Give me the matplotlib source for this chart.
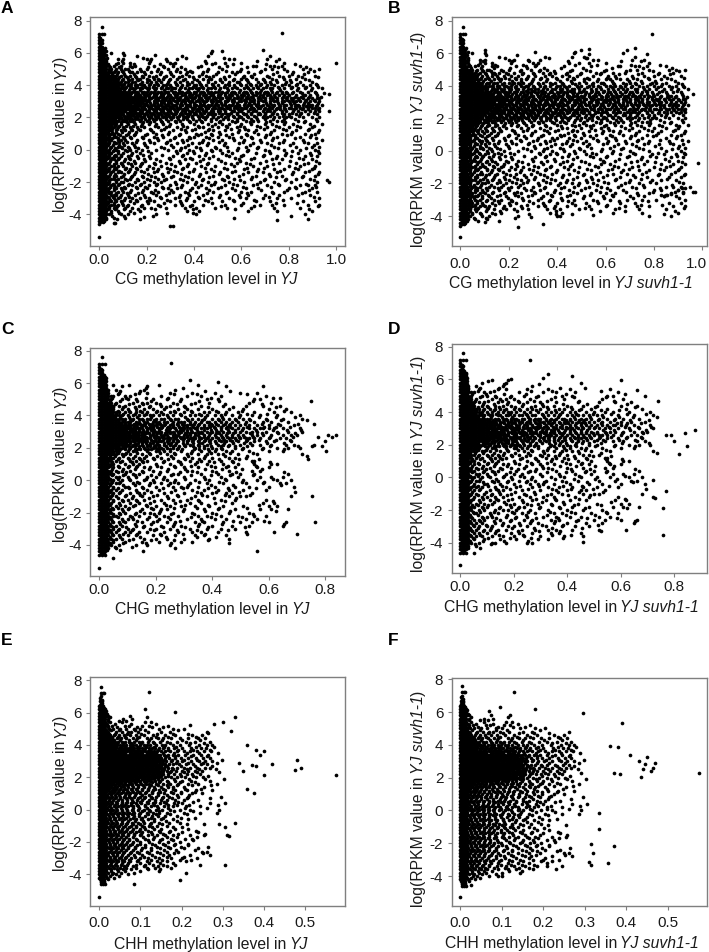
import matplotlib
matplotlib.use('Agg')
import matplotlib.pyplot as plt
from matplotlib.transforms import ScaledTranslation

plt.rcParams['font.family'] = ['Liberation Sans', 'DejaVu Sans']

# log(RPKM) levels the picture was read along, top to bottom
y_levels = [7.6, 7.4, 7.2, 7.0, 6.8, 6.6, 6.4, 6.2, 6.0, 5.8, 5.6, 5.4, 5.2, 5.0, 4.8, 4.6, 4.4, 4.2, 4.0, 3.8, 3.6,
            3.4, 3.2, 3.0, 2.8, 2.6, 2.4, 2.2, 2.0, 1.8, 1.6, 1.4, 1.2, 1.0, 0.8, 0.6, 0.4, 0.2, 0.0, -0.2, -0.4,
            -0.6, -0.8, -1.0, -1.2, -1.4, -1.6, -1.8, -2.0, -2.2, -2.4, -2.6, -2.8, -3.0, -3.2, -3.4, -3.6, -3.8,
            -4.0, -4.2, -4.4, -4.6]
# second pass through the picture, between the levels above
y_mid_levels = [6.9, 6.7, 6.5, 6.3, 6.1, 5.9, 5.7, 5.5, 5.3, 5.1, 4.9, 4.7, 4.5, 4.3, 4.1, 3.9, 3.7, 3.5, 3.3, 3.1, 2.9,
                2.7, 2.5, 2.3, 2.1, 1.9, 1.7, 1.5, 1.3, 1.1, 0.9, 0.7, 0.5, 0.3, 0.1, -0.1, -0.3, -0.5, -0.7, -0.9, -1.1,
                -1.3, -1.5, -1.7, -1.9, -2.1, -2.3, -2.5, -2.7, -2.9, -3.1, -3.3, -3.5, -3.7, -3.9, -4.1, -4.3, -4.5]
# third pass, only the black band
y_core_levels = [3.5, 3.3, 3.1, 2.9, 2.7, 2.5, 2.3, 2.1, 1.9]

# CG methylation in percent, one list per level
cg_rows = [
    [1], [], [0, 1, 2], [0], [0, 1], [0, 1], [0, 1], [0, 1, 2, 69],  # 7.6 - 6.2
    [0, 1, 2, 5, 10, 47], [0, 1, 2, 16, 35, 46, 72],  # 6.0, 5.8
    [0, 1, 2, 3, 8, 10, 20, 22, 28, 33, 55, 57, 71, 76],  # 5.6
    [0, 1, 2, 3, 8, 10, 13, 21, 30, 32, 45, 49, 53, 60, 78],  # 5.4
    [0, 1, 2, 3, 4, 6, 9, 13, 15, 23, 27, 31, 43, 54, 65, 66, 72, 74, 77, 85],  # 5.2
    [0, 1, 2, 3, 4, 5, 7, 9, 11, 12, 17, 20, 25, 29, 33, 36, 46, 52, 60, 70, 73, 78, 86, 89, 93],  # 5.0
    [0, 1, 2, 3, 4, 5, 6, 8, 10, 13, 14, 16, 19, 22, 26, 30, 34, 37, 39, 44, 50, 56, 58, 63, 68, 75, 82, 88],  # 4.8
    [0, 1, 2, 3, 4, 5, 6, 7, 9, 11, 13, 15, 18, 21, 24, 28, 31, 35, 38, 42, 45, 48, 55, 61, 64, 71, 76, 80, 84, 91],  # 4.6
    [0, 1, 2, 3, 4, 5, 6, 7, 8, 10, 12, 14, 16, 17, 20, 23, 25, 27, 30, 33, 36, 40, 44, 47, 51, 53, 57, 60, 62, 66, 69, 73, 78, 83, 87],  # 4.4
    [0, 1, 2, 3, 4, 5, 6, 7, 8, 9, 11, 12, 14, 15, 18, 20, 22, 24, 26, 29, 32, 34, 37, 39, 42, 46, 49, 52, 55, 58, 59, 63, 67, 70, 72, 75, 79, 81, 85, 90],  # 4.2
    [0, 1, 2, 3, 4, 5, 6, 7, 8, 9, 10, 12, 13, 15, 16, 18, 19, 21, 23, 25, 27, 28, 30, 33, 35, 37, 40, 41, 43, 45, 48, 50, 53, 55, 57, 60, 62, 64, 66, 68, 71, 74, 77, 80, 83, 86, 89, 92],  # 4.0
    [0, 1, 2, 3, 4, 5, 6, 7, 8, 9, 10, 11, 13, 14, 15, 17, 18, 20, 21, 23, 24, 26, 28, 29, 31, 32, 34, 36, 38, 39, 41, 42, 44, 46, 47, 49, 51, 54, 56, 58, 61, 63, 65, 67, 69, 72, 73, 76, 78, 81, 84, 87, 90, 94],  # 3.8
    [0, 1, 2, 3, 4, 5, 6, 7, 8, 9, 10, 11, 12, 14, 15, 16, 18, 19, 20, 22, 23, 25, 26, 28, 29, 31, 32, 34, 35, 37, 38, 40, 41, 43, 44, 46, 47, 49, 50, 52, 54, 56, 57, 59, 61, 62, 64, 66, 68, 70, 71, 73, 75, 77, 79, 82, 85, 88, 91],  # 3.6
    [0, 1, 2, 3, 4, 5, 6, 7, 8, 9, 10, 11, 12, 13, 15, 16, 17, 19, 20, 21, 23, 24, 26, 27, 29, 30, 32, 33, 35, 36, 38, 39, 41, 42, 44, 45, 47, 48, 50, 51, 53, 55, 56, 58, 60, 61, 63, 65, 66, 68, 69, 71, 72, 74, 76, 78, 80, 83, 86, 87, 89, 92],  # 3.4
    [0, 1, 2, 3, 4, 5, 6, 7, 8, 9, 10, 11, 12, 13, 14, 15, 17, 18, 19, 21, 22, 24, 25, 27, 28, 30, 31, 33, 34, 36, 37, 39, 40, 42, 43, 45, 46, 48, 49, 51, 52, 54, 55, 57, 58, 60, 62, 63, 65, 67, 68, 70, 72, 73, 75, 77, 79, 81, 82, 84, 86, 88, 90, 92, 93],  # 3.2
    [0, 1, 2, 3, 4, 5, 6, 7, 8, 9, 10, 11, 12, 13, 14, 16, 17, 18, 20, 21, 23, 24, 26, 27, 29, 30, 32, 33, 35, 36, 38, 39, 41, 42, 44, 45, 47, 48, 50, 51, 53, 54, 56, 57, 59, 60, 62, 64, 65, 67, 69, 70, 72, 74, 75, 77, 78, 80, 82, 83, 85, 87, 89, 91, 93],  # 3.0
    [0, 1, 2, 3, 4, 5, 6, 7, 8, 9, 10, 11, 12, 13, 15, 16, 17, 19, 20, 22, 23, 25, 26, 28, 29, 31, 32, 34, 35, 37, 38, 40, 41, 43, 44, 46, 47, 49, 50, 52, 53, 55, 56, 58, 59, 61, 63, 64, 66, 67, 69, 71, 73, 74, 76, 78, 79, 81, 83, 84, 86, 88, 89, 90, 92, 94],  # 2.8
    [0, 1, 2, 3, 4, 5, 6, 7, 8, 9, 10, 11, 12, 14, 15, 16, 18, 19, 21, 22, 24, 25, 27, 28, 30, 31, 33, 34, 36, 37, 39, 40, 42, 43, 45, 46, 48, 49, 51, 52, 54, 55, 57, 58, 60, 61, 62, 64, 65, 67, 68, 70, 72, 73, 75, 76, 78, 80, 81, 83, 85, 86, 88, 90, 91, 93],  # 2.6
    [0, 1, 2, 3, 4, 5, 6, 7, 8, 9, 10, 11, 13, 14, 15, 17, 18, 20, 21, 23, 24, 26, 27, 29, 30, 32, 33, 35, 36, 38, 39, 41, 42, 44, 45, 47, 48, 50, 51, 53, 56, 57, 59, 60, 63, 65, 66, 69, 71, 72, 74, 77, 79, 82, 84, 87, 89, 91, 93],  # 2.4
    [0, 1, 2, 3, 4, 5, 6, 7, 8, 9, 10, 12, 13, 14, 16, 17, 19, 20, 22, 23, 25, 26, 28, 29, 31, 32, 34, 35, 37, 38, 40, 41, 43, 46, 47, 49, 52, 54, 55, 58, 61, 62, 64, 67, 68, 70, 73, 75, 78, 80, 83, 85, 88, 92],  # 2.2
    [0, 1, 2, 3, 4, 5, 6, 7, 8, 9, 11, 12, 15, 16, 18, 19, 21, 22, 24, 25, 27, 28, 30, 31, 33, 36, 37, 39, 42, 44, 45, 48, 50, 53, 57, 59, 60, 63, 66, 69, 71, 74, 76, 79, 81, 86, 90, 93],  # 2.0
    [0, 1, 2, 3, 4, 5, 6, 7, 8, 10, 11, 13, 14, 17, 20, 23, 26, 29, 32, 34, 38, 41, 43, 47, 51, 56, 58, 62, 65, 67, 72, 75, 77, 84, 87, 92],  # 1.8
    [0, 1, 2, 3, 4, 5, 6, 7, 9, 12, 15, 18, 21, 24, 27, 30, 35, 40, 46, 49, 52, 55, 60, 64, 70, 73, 78, 82, 89, 94],  # 1.6
    [0, 1, 2, 3, 4, 5, 6, 8, 10, 13, 16, 19, 25, 28, 33, 37, 42, 44, 50, 54, 58, 61, 68, 71, 76, 80, 85, 90],  # 1.4
    [0, 1, 2, 3, 4, 5, 7, 9, 11, 14, 17, 22, 26, 31, 36, 39, 46, 48, 53, 59, 63, 66, 74, 79, 83, 88, 93],  # 1.2
    [0, 1, 2, 3, 4, 5, 6, 8, 12, 15, 20, 24, 29, 34, 41, 43, 47, 51, 56, 62, 67, 72, 77, 81, 87, 91],  # 1.0
    [0, 1, 2, 3, 4, 6, 7, 10, 13, 18, 23, 27, 32, 38, 40, 45, 50, 55, 60, 64, 70, 75, 85, 89],  # 0.8
    [0, 1, 2, 3, 4, 5, 8, 9, 11, 16, 21, 25, 30, 35, 37, 44, 48, 52, 57, 61, 68, 73, 78, 86, 94],  # 0.6
    [0, 1, 2, 3, 4, 6, 7, 10, 14, 19, 23, 28, 33, 39, 42, 46, 53, 59, 65, 71, 76, 82, 88, 92],  # 0.4
    [0, 1, 2, 3, 5, 8, 9, 12, 15, 20, 26, 31, 36, 41, 49, 54, 62, 67, 74, 83, 90, 93],  # 0.2
    [0, 1, 2, 3, 4, 6, 7, 11, 13, 18, 24, 29, 34, 38, 43, 47, 51, 58, 63, 70, 78, 85, 91],  # 0.0
    [0, 1, 2, 3, 4, 5, 8, 10, 14, 17, 22, 33, 37, 40, 45, 52, 56, 66, 72, 79, 84, 89, 93],  # -0.2
    [0, 1, 2, 3, 4, 6, 7, 9, 12, 16, 21, 31, 35, 42, 48, 55, 60, 69, 75, 81, 87, 92],  # -0.4
    [0, 1, 2, 3, 5, 6, 8, 11, 13, 19, 24, 30, 36, 39, 44, 50, 59, 64, 73, 77, 86, 90],  # -0.6
    [0, 1, 2, 3, 4, 7, 9, 12, 15, 18, 23, 28, 34, 41, 46, 53, 58, 62, 68, 76, 83, 88, 93],  # -0.8
    [0, 1, 2, 3, 5, 6, 8, 10, 14, 17, 21, 26, 32, 37, 43, 49, 57, 65, 71, 80, 85, 91],  # -1.0
    [0, 1, 2, 3, 4, 6, 7, 11, 13, 16, 20, 25, 30, 35, 40, 47, 54, 61, 67, 74, 78, 84, 90],  # -1.2
    [0, 1, 2, 3, 5, 8, 9, 12, 15, 19, 23, 29, 33, 38, 45, 51, 56, 63, 69, 75, 82, 87, 93],  # -1.4
    [0, 1, 2, 3, 4, 6, 7, 10, 14, 18, 22, 27, 31, 36, 42, 48, 54, 59, 66, 72, 77, 86, 91],  # -1.6
    [0, 1, 2, 3, 5, 6, 8, 11, 13, 16, 20, 25, 28, 34, 39, 44, 52, 57, 64, 70, 79, 83, 89],  # -1.8
    [0, 1, 2, 3, 4, 7, 9, 10, 15, 19, 23, 26, 32, 37, 41, 46, 49, 55, 61, 68, 74, 81, 92],  # -2.0
    [0, 1, 2, 3, 5, 6, 8, 12, 14, 17, 21, 24, 30, 35, 43, 47, 53, 58, 65, 71, 76, 85, 88, 91],  # -2.2
    [0, 1, 2, 3, 4, 6, 7, 9, 11, 16, 20, 27, 29, 33, 39, 45, 50, 56, 62, 67, 80, 83, 90],  # -2.4
    [0, 1, 2, 3, 4, 5, 8, 10, 13, 18, 22, 25, 31, 36, 41, 48, 54, 60, 64, 73, 78, 87, 92],  # -2.6
    [0, 1, 2, 3, 5, 6, 7, 9, 12, 15, 19, 24, 28, 34, 38, 44, 51, 59, 63, 70, 76, 84, 89],  # -2.8
    [0, 1, 2, 3, 4, 6, 8, 11, 14, 17, 21, 26, 32, 37, 42, 47, 55, 62, 69, 75, 81, 93],  # -3.0
    [0, 1, 2, 3, 4, 5, 7, 9, 13, 16, 20, 23, 30, 34, 40, 46, 52, 57, 66, 72, 86, 91],  # -3.2
    [0, 1, 2, 3, 5, 6, 8, 10, 12, 18, 25, 32, 35, 39, 44, 53, 60, 68, 73, 78, 88, 93],  # -3.4
    [0, 1, 2, 3, 4, 6, 7, 11, 14, 19, 22, 28, 36, 41, 49, 54, 64, 74, 85],  # -3.6
    [0, 1, 2, 3, 5, 8, 13, 17, 37, 42, 63, 75, 90],  # -3.8
    [0, 1, 2, 3, 4, 9, 12, 24, 41, 87],  # -4.0
    [0, 1, 2, 3, 6, 11],  # -4.2
    [0, 1, 2],  # -4.4
    [0],  # -4.6
]

# CG methylation in per mille, second pass
cg_mid_rows = [
    [5], [5], [5], [5, 12, 22], [5, 15, 30, 475],  # 6.9 - 6.1
    [5, 14, 28, 105, 235],  # 5.9
    [5, 15, 32, 185, 365, 525],  # 5.7
    [5, 15, 28, 95, 215, 285, 445, 665, 745],  # 5.5
    [5, 15, 35, 72, 145, 258, 312, 475, 565, 705, 825],  # 5.3
    [5, 15, 25, 45, 85, 138, 205, 275, 345, 415, 505, 625, 755, 875],  # 5.1
    [5, 15, 25, 42, 65, 95, 125, 175, 245, 325, 385, 455, 535, 595, 685, 795, 905],  # 4.9
    [5, 15, 25, 38, 55, 75, 105, 145, 195, 255, 305, 365, 435, 495, 575, 655, 735, 815, 865],  # 4.7
    [5, 15, 25, 35, 48, 62, 85, 115, 155, 185, 225, 275, 335, 395, 465, 525, 605, 645, 715, 775, 855, 925],  # 4.5
    [5, 15, 25, 35, 45, 58, 72, 95, 125, 165, 212, 252, 295, 355, 412, 458, 512, 565, 625, 695, 745, 805, 885],  # 4.3
    [5, 15, 25, 35, 45, 55, 68, 82, 105, 135, 172, 215, 245, 285, 325, 378, 425, 475, 545, 595, 635, 685, 725, 785, 835, 915],  # 4.1
    [5, 15, 25, 35, 45, 55, 65, 78, 95, 112, 135, 158, 195, 225, 265, 305, 345, 395, 435, 485, 525, 575, 625, 665, 705, 755, 815, 875, 925],  # 3.9
    [5, 15, 25, 35, 45, 55, 65, 75, 88, 105, 125, 145, 172, 205, 235, 272, 302, 335, 375, 415, 455, 505, 545, 595, 635, 685, 725, 765, 835, 895],  # 3.7
    [5, 15, 25, 35, 45, 55, 65, 75, 85, 98, 115, 135, 155, 185, 215, 245, 275, 315, 345, 385, 425, 465, 515, 555, 605, 645, 695, 745, 795, 855, 915],  # 3.5
    [5, 15, 25, 35, 45, 55, 65, 75, 85, 95, 108, 125, 145, 165, 192, 225, 255, 285, 325, 365, 405, 445, 485, 535, 585, 625, 675, 725, 775, 825, 885, 935],  # 3.3
    [5, 15, 25, 35, 45, 55, 65, 75, 85, 95, 105, 118, 135, 155, 175, 198, 235, 265, 295, 335, 375, 415, 455, 495, 545, 595, 635, 685, 735, 795, 845, 905],  # 3.1
    [5, 15, 25, 35, 45, 55, 65, 75, 85, 95, 105, 122, 145, 165, 185, 215, 245, 275, 305, 345, 385, 425, 475, 515, 565, 615, 655, 705, 755, 805, 865, 925],  # 2.9
    [5, 15, 25, 35, 45, 55, 65, 75, 85, 95, 105, 115, 132, 152, 175, 205, 235, 265, 295, 325, 365, 405, 445, 485, 535, 575, 625, 665, 715, 765, 825, 875, 915],  # 2.7
    [5, 15, 25, 35, 45, 55, 65, 75, 85, 95, 112, 128, 148, 168, 195, 225, 255, 285, 315, 355, 395, 435, 475, 525, 585, 635, 695, 745, 785, 855, 925],  # 2.5
    [5, 15, 25, 35, 45, 55, 65, 75, 85, 98, 115, 135, 155, 182, 215, 245, 275, 305, 345, 385, 425, 465, 505, 555, 605, 675, 735, 815, 905],  # 2.3
    [5, 15, 25, 35, 45, 55, 65, 75, 88, 105, 125, 145, 172, 205, 235, 265, 295, 335, 375, 415, 455, 515, 565, 625, 695, 775, 845],  # 2.1
    [5, 15, 25, 35, 45, 55, 68, 82, 98, 118, 138, 165, 195, 225, 255, 305, 355, 395, 445, 495, 545, 605, 665, 735, 825, 915],  # 1.9
    [5, 15, 25, 35, 45, 58, 72, 92, 115, 145, 185, 215, 265, 325, 385, 435, 505, 575, 635, 705, 785, 865],  # 1.7
    [5, 15, 25, 35, 48, 65, 85, 112, 142, 175, 235, 295, 355, 415, 475, 535, 595, 665, 745, 835, 905],  # 1.5
    [5, 15, 25, 38, 55, 75, 105, 135, 165, 215, 275, 345, 405, 465, 555, 615, 695, 775, 885],  # 1.3
    [5, 15, 25, 35, 52, 72, 98, 125, 155, 225, 295, 365, 445, 505, 585, 655, 725, 815, 925],  # 1.1
    [5, 15, 25, 42, 62, 88, 112, 145, 195, 265, 335, 415, 475, 535, 625, 705, 795, 895],  # 0.9
    [5, 15, 25, 38, 55, 78, 105, 135, 185, 245, 315, 385, 465, 565, 645, 735, 825, 915],  # 0.7
    [5, 15, 25, 42, 62, 85, 118, 155, 215, 285, 355, 435, 505, 605, 685, 775, 865],  # 0.5
    [5, 15, 25, 38, 58, 82, 105, 145, 195, 305, 375, 455, 525, 635, 725, 805, 905],  # 0.3
    [5, 15, 25, 45, 65, 95, 125, 165, 275, 345, 425, 495, 585, 665, 755, 875],  # 0.1
    [5, 15, 25, 38, 58, 78, 115, 155, 205, 325, 395, 475, 545, 625, 715, 815, 925],  # -0.1
    [5, 15, 25, 42, 65, 92, 135, 185, 265, 355, 445, 535, 605, 695, 785, 895],  # -0.3
    [5, 15, 25, 38, 55, 85, 125, 165, 215, 295, 385, 465, 575, 655, 745, 845],  # -0.5
    [5, 15, 25, 45, 72, 105, 145, 195, 255, 335, 425, 515, 595, 705, 805, 915],  # -0.7
    [5, 15, 25, 38, 62, 95, 135, 175, 235, 305, 375, 455, 555, 635, 735, 865],  # -0.9
    [5, 15, 25, 42, 72, 112, 155, 225, 285, 355, 445, 525, 625, 695, 825, 905],  # -1.1
    [5, 15, 25, 38, 58, 85, 125, 175, 245, 315, 395, 485, 575, 665, 765, 885],  # -1.3
    [5, 15, 25, 45, 68, 105, 145, 205, 265, 345, 425, 505, 605, 715, 815, 925],  # -1.5
    [5, 15, 25, 38, 62, 92, 135, 185, 235, 305, 375, 465, 545, 645, 745, 855],  # -1.7
    [5, 15, 25, 42, 72, 115, 165, 215, 275, 355, 435, 525, 595, 695, 785, 905],  # -1.9
    [5, 15, 25, 38, 58, 85, 125, 175, 245, 325, 405, 485, 565, 665, 755, 875],  # -2.1
    [5, 15, 25, 45, 68, 105, 155, 195, 265, 345, 415, 515, 605, 725, 825, 915],  # -2.3
    [5, 15, 25, 38, 62, 95, 135, 185, 235, 305, 385, 465, 575, 685, 795, 885],  # -2.5
    [5, 15, 25, 42, 72, 115, 165, 225, 295, 375, 455, 535, 625, 735, 855],  # -2.7
    [5, 15, 25, 38, 58, 88, 125, 195, 255, 335, 415, 505, 595, 715, 905],  # -2.9
    [5, 15, 25, 45, 68, 105, 155, 215, 285, 365, 445, 565, 655, 775],  # -3.1
    [5, 15, 25, 38, 62, 95, 145, 205, 275, 345, 475, 605, 745, 835],  # -3.3
    [5, 15, 25, 42, 75, 115, 175, 255, 385, 515, 655, 925],  # -3.5
    [5, 15, 25, 38, 65, 105, 165, 235, 395, 575, 885],  # -3.7
    [5, 15, 25, 48, 85, 145, 285, 395],  # -3.9
    [5, 15, 25, 55, 105, 225],  # -4.1
    [5, 15, 28, 75],  # -4.3
    [5, 15],  # -4.5
]

# CG methylation in per mille, black band only
cg_core_rows = [
    [108, 128, 165, 198, 232, 262, 292, 332, 362, 402, 442, 482, 532, 572, 622, 668, 712, 772, 812],  # 3.5
    [118, 135, 158, 178, 208, 238, 268, 302, 342, 382, 422, 462, 502, 552, 602, 642, 692, 742, 792, 852],  # 3.3
    [112, 128, 145, 165, 188, 212, 248, 278, 312, 352, 392, 432, 472, 512, 562, 612, 652, 702, 752, 812, 872],  # 3.1
    [115, 135, 155, 175, 198, 232, 262, 292, 328, 362, 402, 442, 492, 532, 582, 632, 672, 722, 772, 822, 882],  # 2.9
    [125, 142, 162, 188, 218, 248, 278, 308, 342, 382, 422, 462, 502, 552, 592, 642, 682, 732, 782, 842, 892],  # 2.7
    [122, 138, 158, 182, 208, 238, 268, 298, 332, 372, 412, 452, 502, 552, 602, 652, 712, 762, 822, 882],  # 2.5
    [125, 145, 168, 198, 228, 258, 288, 322, 362, 402, 442, 482, 532, 582, 642, 702, 772, 852],  # 2.3
    [115, 135, 158, 188, 218, 248, 278, 312, 352, 392, 432, 482, 542, 592, 652, 722, 802],  # 2.1
    [108, 128, 152, 178, 208, 238, 282, 332, 372, 422, 472, 522, 582, 642, 702, 782],  # 1.9
]

# CHG methylation in percent
chg_rows = [
    [1], [], [0, 1, 2], [0], [0, 1], [0, 1], [0, 1, 2], [0, 1, 2],
    [0, 1, 2], [0, 1, 2, 8, 17, 45],  # 6.0, 5.8
    [0, 1, 2, 3, 6, 16, 27],  # 5.6
    [0, 1, 2, 3, 7, 14, 17, 25, 33, 41, 56],  # 5.4
    [0, 1, 2, 3, 4, 5, 9, 11, 22, 31, 36, 43, 59],  # 5.2
    [0, 1, 2, 3, 4, 8, 10, 13, 19, 24, 29, 38, 42, 55, 57],  # 5.0
    [0, 1, 2, 3, 4, 6, 12, 15, 17, 20, 26, 34, 39, 53, 61],  # 4.8
    [0, 1, 2, 3, 4, 5, 7, 9, 14, 18, 22, 25, 30, 36, 44, 52, 58, 64],  # 4.6
    [0, 1, 2, 3, 4, 5, 8, 10, 13, 16, 19, 23, 28, 31, 35, 40, 46, 51, 60, 66],  # 4.4
    [0, 1, 2, 3, 4, 5, 6, 7, 9, 11, 13, 15, 17, 20, 22, 25, 27, 30, 33, 37, 39, 42, 45, 49, 55, 62, 68],  # 4.2
    [0, 1, 2, 3, 4, 5, 6, 7, 8, 10, 12, 14, 16, 18, 19, 21, 24, 26, 29, 32, 34, 36, 38, 41, 43, 47, 50, 54, 57, 63, 71],  # 4.0
    [0, 1, 2, 3, 4, 5, 6, 7, 8, 9, 11, 12, 14, 15, 17, 18, 20, 22, 23, 25, 27, 28, 31, 33, 35, 37, 40, 42, 44, 46, 48, 51, 53, 59, 65, 72],  # 3.8
    [0, 1, 2, 3, 4, 5, 6, 7, 8, 9, 10, 11, 13, 14, 16, 17, 19, 20, 21, 23, 24, 26, 28, 29, 30, 32, 34, 36, 38, 39, 41, 43, 45, 47, 49, 52, 55, 58, 61, 67],  # 3.6
    [0, 1, 2, 3, 4, 5, 6, 7, 8, 9, 10, 11, 12, 13, 15, 16, 18, 19, 20, 22, 23, 25, 26, 28, 30, 31, 33, 35, 37, 39, 40, 42, 44, 46, 48, 50, 53, 56, 60, 64, 69],  # 3.4
    [0, 1, 2, 3, 4, 5, 6, 7, 8, 9, 10, 11, 12, 13, 14, 15, 17, 18, 19, 21, 22, 24, 25, 27, 29, 30, 32, 34, 36, 38, 41, 43, 45, 47, 49, 51, 53, 55, 57, 58, 60, 62, 65, 71],  # 3.2
    [0, 1, 2, 3, 4, 5, 6, 7, 8, 9, 10, 11, 12, 13, 14, 15, 16, 17, 19, 20, 21, 22, 24, 25, 26, 28, 29, 31, 33, 35, 36, 38, 40, 42, 44, 46, 48, 50, 52, 54, 56, 59, 63, 67, 72],  # 3.0
    [0, 1, 2, 3, 4, 5, 6, 7, 8, 9, 10, 11, 12, 13, 14, 15, 16, 18, 19, 20, 22, 23, 24, 26, 27, 28, 30, 31, 32, 34, 35, 37, 39, 41, 43, 45, 47, 49, 51, 54, 56, 58, 61, 65, 68, 70],  # 2.8
    [0, 1, 2, 3, 4, 5, 6, 7, 8, 9, 10, 11, 12, 13, 14, 15, 16, 17, 18, 20, 21, 23, 24, 25, 27, 29, 30, 32, 33, 34, 36, 38, 40, 42, 44, 46, 48, 50, 52, 53, 55, 57, 60, 64, 66],  # 2.6
    [0, 1, 2, 3, 4, 5, 6, 7, 8, 9, 10, 11, 12, 14, 15, 16, 17, 19, 20, 21, 22, 24, 26, 28, 31, 33, 35, 37, 39, 41, 43, 45, 47, 49, 52, 55, 59, 62, 68],  # 2.4
    [0, 1, 2, 3, 4, 5, 6, 7, 8, 9, 10, 12, 13, 15, 17, 18, 20, 21, 23, 25, 27, 30, 32, 35, 38, 42, 44, 46, 50, 54, 57, 61, 66, 69],  # 2.2
    [0, 1, 2, 3, 4, 5, 6, 7, 8, 9, 11, 14, 16, 19, 20, 21, 22, 24, 26, 28, 34, 37, 40, 43, 48, 51, 58, 63, 67, 71],  # 2.0
    [0, 1, 2, 3, 4, 5, 6, 7, 10, 12, 13, 17, 20, 21, 23, 25, 29, 33, 36, 39, 41, 45, 47, 53, 60, 65],  # 1.8
    [0, 1, 2, 3, 4, 5, 6, 8, 9, 11, 15, 18, 24, 27, 31, 35, 38, 42, 44, 49, 56, 72],  # 1.6
    [0, 1, 2, 3, 4, 5, 7, 10, 12, 14, 16, 19, 22, 26, 30, 33, 37, 40, 46, 48, 52],  # 1.4
    [0, 1, 2, 3, 4, 6, 8, 11, 13, 15, 17, 23, 28, 32, 36, 39, 43, 47, 54, 55],  # 1.2
    [0, 1, 2, 3, 4, 5, 9, 12, 14, 20, 25, 29, 34, 38, 44, 49, 55, 61, 63],  # 1.0
    [0, 1, 2, 3, 5, 7, 10, 13, 16, 18, 22, 27, 30, 35, 41, 45, 48, 56, 60],  # 0.8
    [0, 1, 2, 3, 4, 6, 8, 11, 15, 19, 24, 31, 33, 40, 46, 54, 57],  # 0.6
    [0, 1, 2, 3, 4, 5, 9, 12, 14, 21, 26, 28, 36, 42, 47, 50, 55, 67],  # 0.4
    [0, 1, 2, 3, 6, 7, 10, 13, 17, 20, 23, 30, 37, 43, 49, 57, 61, 65],  # 0.2
    [0, 1, 2, 3, 4, 5, 8, 11, 16, 19, 24, 27, 34, 39, 45, 51, 56, 63, 68],  # 0.0
    [0, 1, 2, 3, 4, 6, 7, 12, 14, 18, 22, 25, 28, 32, 38, 44, 52, 58, 64, 66],  # -0.2
    [0, 1, 2, 3, 5, 9, 10, 15, 20, 26, 29, 31, 35, 41, 48, 53, 60, 69],  # -0.4
    [0, 1, 2, 3, 4, 6, 8, 13, 17, 21, 27, 33, 37, 42, 46, 51, 59],  # -0.6
    [0, 1, 2, 3, 5, 7, 11, 14, 16, 23, 30, 36, 40, 45, 47, 54],  # -0.8
    [0, 1, 2, 3, 4, 6, 9, 12, 15, 19, 24, 28, 34, 38, 46, 50, 52, 68],  # -1.0
    [0, 1, 2, 3, 5, 8, 10, 13, 16, 22, 26, 31, 35, 43, 48, 59],  # -1.2
    [0, 1, 2, 3, 4, 7, 11, 14, 18, 23, 27, 32, 36, 41, 47, 58, 62],  # -1.4
    [0, 1, 2, 3, 6, 9, 12, 17, 20, 25, 29, 34, 39, 44, 51, 60, 63],  # -1.6
    [0, 1, 2, 3, 4, 5, 8, 10, 15, 19, 22, 24, 30, 37, 42, 48, 57, 61, 67],  # -1.8
    [0, 1, 2, 3, 4, 7, 9, 13, 16, 18, 21, 26, 33, 40, 46, 53],  # -2.0
    [0, 1, 2, 3, 5, 6, 11, 14, 20, 23, 28, 35, 38, 43, 49, 55, 59],  # -2.2
    [0, 1, 2, 3, 4, 8, 10, 12, 17, 21, 25, 31, 36, 41, 45, 52, 56],  # -2.4
    [0, 1, 2, 3, 5, 7, 9, 15, 19, 24, 27, 34, 37, 44, 50, 54, 60, 66],  # -2.6
    [0, 1, 2, 3, 4, 6, 8, 13, 16, 22, 26, 29, 35, 40, 47, 53, 65],  # -2.8
    [0, 1, 2, 3, 5, 7, 10, 12, 18, 20, 25, 32, 38, 43, 48],  # -3.0
    [0, 1, 2, 3, 4, 6, 9, 11, 14, 17, 23, 28, 33, 36, 42, 52, 62],  # -3.2
    [0, 1, 2, 3, 5, 7, 10, 13, 19, 22, 27, 34, 37, 45],  # -3.4
    [0, 1, 2, 3, 4, 6, 8, 12, 16, 20, 24, 30, 39, 46],  # -3.6
    [0, 1, 2, 3, 5, 9, 15, 21, 29, 33],  # -3.8
    [0, 1, 2, 3, 4, 7, 13, 17, 25],  # -4.0
    [0, 1, 2, 3, 6],  # -4.2
    [0, 1, 2],  # -4.4
    [0, 1, 2],  # -4.6
]

# CHG methylation in per mille, second pass
chg_mid_rows = [
    [5], [5], [5, 15], [5, 15, 22], [5, 15, 25],  # 6.9 - 6.1
    [5, 15, 25, 105],  # 5.9
    [5, 15, 25, 165, 295],  # 5.7
    [5, 15, 28, 75, 145, 375, 465],  # 5.5
    [5, 15, 28, 65, 125, 265, 345, 525],  # 5.3
    [5, 15, 25, 45, 95, 165, 245, 395, 615],  # 5.1
    [5, 15, 25, 38, 75, 135, 185, 285, 355, 425, 545],  # 4.9
    [5, 15, 25, 35, 55, 105, 155, 215, 275, 325, 445, 575],  # 4.7
    [5, 15, 25, 35, 48, 85, 125, 175, 235, 305, 385, 475, 625],  # 4.5
    [5, 15, 25, 35, 45, 65, 105, 145, 205, 265, 325, 415, 505, 655],  # 4.3
    [5, 15, 25, 35, 45, 58, 85, 125, 165, 225, 285, 355, 445, 525, 595],  # 4.1
    [5, 15, 25, 35, 45, 55, 75, 105, 135, 185, 245, 305, 375, 435, 495, 565, 625, 695],  # 3.9
    [5, 15, 25, 35, 45, 55, 65, 85, 115, 155, 195, 255, 315, 365, 425, 485, 535, 595, 645, 735],  # 3.7
    [5, 15, 25, 35, 45, 55, 65, 78, 105, 145, 175, 215, 275, 335, 395, 445, 515, 575, 635, 705],  # 3.5
    [5, 15, 25, 35, 45, 55, 65, 75, 95, 125, 165, 205, 245, 295, 345, 405, 465, 525, 585, 625, 675],  # 3.3
    [5, 15, 25, 35, 45, 55, 65, 75, 85, 115, 155, 195, 235, 285, 325, 395, 455, 505, 555, 615, 665, 715],  # 3.1
    [5, 15, 25, 35, 45, 55, 65, 75, 85, 105, 135, 175, 215, 265, 305, 365, 425, 475, 535, 575, 635, 695],  # 2.9
    [5, 15, 25, 35, 45, 55, 65, 75, 85, 95, 125, 165, 195, 245, 285, 335, 385, 435, 495, 545, 605, 685],  # 2.7
    [5, 15, 25, 35, 45, 55, 65, 75, 85, 105, 135, 185, 225, 275, 315, 375, 425, 485, 565, 625, 675],  # 2.5
    [5, 15, 25, 35, 45, 55, 65, 78, 95, 125, 165, 205, 255, 295, 365, 415, 475, 535, 595, 655],  # 2.3
    [5, 15, 25, 35, 45, 55, 68, 85, 115, 155, 195, 235, 305, 355, 395, 455, 525, 605, 705],  # 2.1
    [5, 15, 25, 35, 45, 58, 75, 105, 145, 185, 225, 275, 335, 385, 435, 505, 575, 655],  # 1.9
    [5, 15, 25, 35, 48, 65, 95, 135, 175, 215, 265, 325, 395, 465, 545],  # 1.7
    [5, 15, 25, 38, 55, 85, 125, 165, 205, 255, 315, 375, 445, 525, 735],  # 1.5
    [5, 15, 25, 35, 65, 105, 145, 195, 245, 305, 355, 425, 495, 565],  # 1.3
    [5, 15, 25, 45, 75, 115, 155, 225, 285, 345, 405, 475, 545, 605],  # 1.1
    [5, 15, 25, 38, 65, 105, 135, 205, 265, 325, 395, 455, 555],  # 0.9
    [5, 15, 25, 45, 85, 125, 175, 245, 305, 375, 435, 505, 575],  # 0.7
    [5, 15, 25, 38, 65, 95, 155, 215, 285, 345, 415, 485, 655],  # 0.5
    [5, 15, 25, 45, 85, 125, 185, 255, 325, 395, 465, 545],  # 0.3
    [5, 15, 25, 38, 65, 105, 165, 225, 305, 375, 445, 615],  # 0.1
    [5, 15, 25, 45, 75, 135, 195, 265, 355, 425, 505, 585],  # -0.1
    [5, 15, 25, 38, 85, 125, 175, 245, 315, 395, 475, 645],  # -0.3
    [5, 15, 25, 48, 65, 105, 155, 225, 295, 385, 455, 555],  # -0.5
    [5, 15, 25, 38, 75, 135, 185, 255, 345, 415, 495, 695],  # -0.7
    [5, 15, 25, 45, 95, 145, 205, 275, 365, 445, 535],  # -0.9
    [5, 15, 25, 38, 65, 115, 175, 245, 325, 405, 485],  # -1.1
    [5, 15, 25, 48, 85, 135, 195, 285, 355, 445, 615],  # -1.3
    [5, 15, 25, 38, 75, 125, 165, 235, 305, 385, 565],  # -1.5
    [5, 15, 25, 45, 65, 105, 185, 265, 345, 425, 525],  # -1.7
    [5, 15, 25, 38, 85, 145, 215, 295, 375, 465, 625],  # -1.9
    [5, 15, 25, 48, 75, 125, 195, 255, 335, 415, 545],  # -2.1
    [5, 15, 25, 38, 65, 115, 175, 245, 325, 395, 505],  # -2.3
    [5, 15, 25, 45, 85, 135, 205, 285, 365, 475, 585],  # -2.5
    [5, 15, 25, 38, 75, 125, 185, 265, 355, 435, 655],  # -2.7
    [5, 15, 25, 48, 95, 155, 225, 305, 385, 515],  # -2.9
    [5, 15, 25, 38, 65, 115, 195, 275, 345, 455],  # -3.1
    [5, 15, 25, 45, 85, 135, 215, 295, 375, 525],  # -3.3
    [5, 15, 25, 38, 75, 145, 235, 345, 415],  # -3.5
    [5, 15, 25, 48, 105, 185, 265, 385],  # -3.7
    [5, 15, 25, 38, 85, 165, 255],  # -3.9
    [5, 15, 25, 55, 115],  # -4.1
    [5, 15, 28, 75],  # -4.3
    [5, 15],  # -4.5
]

# CHG methylation in per mille, black band only
chg_core_rows = [
    [72, 92, 122, 135, 162, 188, 205, 232, 258, 292, 322, 352, 412, 462],  # 3.5
    [85, 108, 132, 148, 178, 192, 222, 262, 282, 312, 332, 372, 392, 432, 452],  # 3.3
    [95, 108, 128, 142, 168, 182, 212, 248, 272, 298, 312, 348, 372, 412, 432, 482],  # 3.1
    [95, 118, 128, 152, 165, 192, 205, 232, 252, 282, 322, 338, 352, 392, 412, 452],  # 2.9
    [108, 118, 138, 152, 178, 208, 222, 262, 272, 298, 312, 352, 372, 412, 452, 472, 512],  # 2.7
    [95, 118, 125, 148, 162, 198, 212, 248, 262, 298, 332, 352, 392, 442, 462, 522],  # 2.5
    [88, 108, 138, 152, 178, 192, 228, 242, 272, 312, 332, 352, 392, 442, 512],  # 2.3
    [95, 105, 128, 142, 168, 178, 212, 262, 282, 332, 372, 432, 482],  # 2.1
    [68, 92, 125, 132, 162, 172, 208, 252, 292, 352, 412],  # 1.9
]

# CHH methylation in per mille
chh_rows = [
    [5], [], [4, 8, 12], [3], [3, 7], [3, 7], [0, 4, 9], [0, 4, 9, 13],
    [0, 4, 9, 14], [0, 4, 9, 16, 22, 75],  # 6.0, 5.8
    [0, 4, 9, 13, 20, 57, 80],  # 5.6
    [0, 4, 9, 13, 26, 56, 110, 125],  # 5.4
    [0, 4, 9, 14, 20, 30, 62, 72, 105, 120, 168],  # 5.2
    [0, 4, 9, 15, 24, 33, 50, 65, 85, 100, 145, 180, 205],  # 5.0
    [0, 4, 9, 14, 22, 40, 55, 70, 78, 95, 118, 150, 172, 262],  # 4.8
    [0, 4, 9, 14, 19, 27, 35, 48, 60, 75, 88, 108, 130, 160, 185, 225, 250],  # 4.6
    [0, 4, 9, 14, 20, 26, 32, 42, 52, 66, 82, 92, 115, 125, 142, 155, 175, 195, 215, 240, 258],  # 4.4
    [0, 4, 9, 14, 20, 25, 31, 38, 46, 54, 62, 73, 85, 96, 105, 118, 130, 148, 165, 190, 210, 232, 268],  # 4.2
    [0, 4, 9, 14, 20, 26, 32, 38, 44, 50, 58, 66, 74, 82, 90, 98, 108, 116, 124, 138, 152, 160, 178, 196, 218, 242, 262, 275],  # 4.0
    [0, 4, 9, 14, 19, 24, 30, 35, 41, 47, 53, 59, 65, 71, 77, 84, 91, 97, 103, 112, 121, 128, 136, 145, 155, 168, 182, 200, 224, 247, 260],  # 3.8
    [0, 4, 9, 14, 19, 24, 29, 34, 39, 44, 50, 56, 62, 68, 74, 80, 86, 92, 98, 105, 112, 118, 126, 133, 141, 150, 160, 172, 188, 205, 220, 238, 255, 272],  # 3.6
    [0, 4, 9, 14, 19, 24, 29, 34, 39, 44, 49, 55, 60, 66, 71, 77, 83, 89, 95, 101, 107, 114, 120, 127, 134, 142, 148, 157, 166, 178, 192, 208, 228, 246, 265],  # 3.4
    [0, 4, 9, 14, 19, 24, 29, 34, 39, 44, 49, 54, 60, 65, 70, 76, 82, 87, 93, 99, 105, 111, 117, 123, 130, 136, 143, 151, 159, 170, 184, 198, 215, 235, 252, 268],  # 3.2
    [0, 4, 9, 14, 19, 24, 29, 34, 39, 44, 49, 54, 59, 65, 70, 75, 81, 86, 92, 98, 103, 109, 115, 121, 127, 133, 140, 146, 153, 162, 174, 188, 202, 222, 242, 258, 275],  # 3.0
    [0, 4, 9, 14, 19, 24, 29, 34, 39, 44, 49, 54, 59, 64, 69, 75, 80, 86, 91, 97, 102, 108, 114, 120, 126, 132, 138, 145, 152, 160, 170, 180, 194, 210, 228, 248, 262],  # 2.8
    [0, 4, 9, 14, 19, 24, 29, 34, 39, 44, 49, 54, 59, 64, 70, 75, 80, 85, 91, 96, 102, 107, 113, 119, 125, 131, 137, 144, 150, 158, 167, 176, 190, 205, 220, 238, 256, 268],  # 2.6
    [0, 4, 9, 14, 19, 24, 29, 34, 39, 44, 49, 54, 59, 64, 69, 74, 80, 85, 90, 96, 101, 107, 112, 118, 124, 130, 136, 143, 149, 156, 165, 175, 186, 200, 216, 232, 250],  # 2.4
    [0, 4, 9, 14, 19, 24, 29, 34, 39, 44, 49, 54, 60, 65, 70, 76, 81, 87, 92, 98, 104, 109, 115, 121, 127, 133, 140, 147, 155, 168, 182, 195, 212, 226, 245],  # 2.2
    [0, 4, 9, 14, 19, 24, 29, 35, 40, 45, 51, 56, 62, 68, 74, 80, 86, 93, 99, 106, 112, 119, 125, 132, 139, 146, 160, 175, 190, 208, 235, 252],  # 2.0
    [0, 4, 9, 14, 20, 25, 31, 37, 43, 49, 56, 63, 70, 77, 84, 92, 100, 108, 116, 124, 135, 148, 165, 185, 200, 222, 270],  # 1.8
    [0, 4, 9, 14, 20, 26, 33, 40, 47, 55, 63, 72, 80, 90, 102, 113, 122, 137, 155, 172, 192, 215, 240, 285],  # 1.6
    [0, 4, 9, 14, 21, 28, 35, 43, 52, 61, 70, 82, 95, 108, 120, 132, 150, 168, 180, 205, 255],  # 1.4
    [0, 4, 9, 15, 22, 30, 38, 47, 58, 68, 80, 92, 105, 118, 130, 145, 160, 185, 212, 235, 275],  # 1.2
    [0, 4, 9, 15, 23, 32, 42, 52, 64, 75, 88, 100, 112, 128, 142, 158, 178, 198, 225, 250],  # 1.0
    [0, 4, 9, 14, 22, 31, 40, 50, 60, 72, 85, 98, 110, 125, 138, 155, 170, 192, 215, 295],  # 0.8
    [0, 4, 9, 15, 24, 34, 45, 56, 68, 80, 92, 105, 120, 135, 150, 165, 185, 205, 240],  # 0.6
    [0, 4, 9, 14, 22, 32, 43, 55, 66, 78, 90, 102, 118, 130, 148, 162, 182, 200, 270, 305],  # 0.4
    [0, 4, 9, 15, 24, 35, 46, 58, 70, 83, 95, 110, 125, 140, 158, 178, 210, 245],  # 0.2
    [0, 4, 9, 14, 23, 33, 44, 56, 68, 80, 94, 108, 122, 138, 152, 172, 195, 220, 290],  # 0.0
    [0, 4, 9, 15, 25, 36, 48, 60, 72, 85, 100, 115, 130, 145, 165, 205, 245, 285],  # -0.2
    [0, 4, 9, 14, 23, 34, 46, 58, 70, 84, 97, 112, 128, 142, 160, 190],  # -0.4
    [0, 4, 9, 15, 24, 35, 47, 60, 74, 88, 102, 118, 134, 150, 178, 215],  # -0.6
    [0, 4, 9, 14, 22, 33, 44, 56, 68, 80, 94, 108, 125, 145, 170, 195],  # -0.8
    [0, 4, 9, 15, 25, 36, 48, 62, 76, 90, 105, 120, 140, 165],  # -1.0
    [0, 4, 9, 14, 23, 33, 45, 56, 68, 82, 98, 112, 132, 150, 185, 215],  # -1.2
    [0, 4, 9, 15, 25, 36, 48, 60, 74, 88, 105, 125, 148, 170, 200, 240],  # -1.4
    [0, 4, 9, 14, 23, 34, 46, 58, 70, 85, 100, 118, 140, 160, 180, 220, 255],  # -1.6
    [0, 4, 9, 15, 24, 35, 47, 60, 72, 88, 110, 130, 152, 175, 208, 225],  # -1.8
    [0, 4, 9, 14, 23, 33, 44, 56, 68, 82, 98, 120, 145, 168, 195],  # -2.0
    [0, 4, 9, 15, 25, 36, 48, 60, 74, 92, 110, 135, 160, 182, 215],  # -2.2
    [0, 4, 9, 14, 23, 34, 46, 58, 70, 86, 105, 125, 148, 172, 205, 240],  # -2.4
    [0, 4, 9, 15, 24, 35, 47, 60, 76, 92, 115, 140, 165, 192, 250, 262],  # -2.6
    [0, 4, 9, 14, 22, 33, 44, 56, 70, 85, 105, 128, 155, 170, 220, 270],  # -2.8
    [0, 4, 9, 15, 25, 36, 48, 62, 78, 98, 118, 145, 175, 200, 238],  # -3.0
    [0, 4, 9, 14, 23, 34, 46, 60, 75, 92, 115, 140, 165, 210],  # -3.2
    [0, 4, 9, 15, 26, 38, 52, 68, 88, 110, 130, 155, 185, 245],  # -3.4
    [0, 4, 9, 14, 24, 36, 50, 65, 90, 115, 135, 175],  # -3.6
    [0, 4, 9, 16, 28, 45, 62, 100, 145],  # -3.8
    [0, 4, 9, 14, 30, 40, 70],  # -4.0
    [0, 4, 9, 18, 35],  # -4.2
    [3, 7, 11],  # -4.4
    [5, 9, 13],  # -4.6
]

# CHH methylation in per mille, second pass
chh_mid_rows = [
    [2], [2, 6], [2, 6], [2, 7, 12], [2, 7, 12, 17],  # 6.9 - 6.1
    [2, 7, 12, 18],  # 5.9
    [2, 7, 12, 27, 115],  # 5.7
    [2, 7, 12, 22, 47, 66],  # 5.5
    [2, 7, 12, 18, 37, 78, 138],  # 5.3
    [2, 7, 12, 22, 43, 92, 128, 155],  # 5.1
    [2, 7, 12, 17, 29, 48, 87, 112, 192],  # 4.9
    [2, 7, 12, 17, 23, 37, 67, 102, 141, 178, 215],  # 4.7
    [2, 7, 12, 17, 23, 31, 45, 63, 96, 137, 168, 236],  # 4.5
    [2, 7, 12, 17, 23, 29, 36, 51, 72, 89, 122, 152, 202, 245],  # 4.3
    [2, 7, 12, 17, 22, 28, 35, 43, 57, 77, 101, 134, 171, 221, 255],  # 4.1
    [2, 7, 12, 17, 22, 27, 33, 41, 52, 62, 79, 94, 113, 132, 158, 187, 235, 278],  # 3.9
    [2, 7, 12, 17, 22, 27, 32, 37, 47, 57, 69, 83, 95, 109, 123, 143, 166, 192, 228, 268],  # 3.7
    [2, 7, 12, 17, 22, 27, 32, 37, 42, 52, 63, 74, 86, 103, 116, 130, 154, 182, 212, 243, 288],  # 3.5
    [2, 7, 12, 17, 22, 27, 32, 37, 42, 47, 58, 69, 80, 92, 104, 118, 131, 146, 163, 185, 222, 262],  # 3.3
    [2, 7, 12, 17, 22, 27, 32, 37, 42, 47, 52, 63, 73, 85, 96, 108, 120, 135, 149, 176, 206, 238, 298],  # 3.1
    [2, 7, 12, 17, 22, 27, 32, 37, 42, 47, 52, 58, 67, 78, 89, 101, 112, 125, 139, 155, 186, 215, 252, 285],  # 2.9
    [2, 7, 12, 17, 22, 27, 32, 37, 42, 47, 52, 57, 63, 72, 83, 94, 105, 117, 129, 142, 164, 198, 232, 275],  # 2.7
    [2, 7, 12, 17, 22, 27, 32, 37, 42, 47, 52, 57, 62, 68, 78, 88, 99, 111, 122, 136, 152, 178, 212, 243, 283],  # 2.5
    [2, 7, 12, 17, 22, 27, 32, 37, 42, 47, 52, 57, 63, 72, 83, 94, 106, 118, 131, 145, 172, 205, 238, 292],  # 2.3
    [2, 7, 12, 17, 22, 27, 32, 37, 42, 47, 52, 58, 67, 78, 90, 102, 115, 128, 143, 166, 198, 228, 265],  # 2.1
    [2, 7, 12, 17, 22, 27, 32, 38, 46, 54, 65, 75, 88, 104, 118, 134, 152, 182, 218, 258, 302],  # 1.9
    [2, 7, 12, 17, 22, 27, 34, 43, 52, 62, 74, 87, 98, 112, 128, 145, 168, 196, 232],  # 1.7
    [2, 7, 12, 17, 22, 29, 37, 47, 57, 68, 79, 94, 107, 125, 142, 165, 188, 225, 272],  # 1.5
    [2, 7, 12, 17, 24, 33, 41, 51, 63, 76, 88, 103, 118, 136, 155, 178, 208, 248],  # 1.3
    [2, 7, 12, 17, 26, 35, 46, 57, 70, 83, 96, 114, 128, 148, 175, 198, 232],  # 1.1
    [2, 7, 12, 19, 28, 38, 48, 62, 73, 87, 104, 122, 142, 165, 188, 218],  # 0.9
    [2, 7, 12, 17, 26, 37, 51, 64, 78, 95, 108, 128, 152, 176, 212, 268],  # 0.7
    [2, 7, 12, 19, 29, 41, 54, 68, 83, 98, 115, 135, 158, 192, 228],  # 0.5
    [2, 7, 12, 17, 27, 39, 52, 63, 77, 92, 112, 132, 166, 188, 218, 288],  # 0.3
    [2, 7, 12, 19, 29, 41, 53, 66, 81, 97, 116, 142, 168, 208, 262],  # 0.1
    [2, 7, 12, 17, 28, 40, 54, 67, 82, 104, 124, 146, 182, 228],  # -0.1
    [2, 7, 12, 19, 30, 42, 55, 68, 79, 96, 118, 138, 172, 212],  # -0.3
    [2, 7, 12, 17, 27, 39, 52, 66, 83, 104, 125, 155, 198, 232],  # -0.5
    [2, 7, 12, 19, 29, 41, 54, 70, 87, 106, 132, 162, 188],  # -0.7
    [2, 7, 12, 17, 28, 40, 53, 66, 83, 100, 124, 152, 212, 255],  # -0.9
    [2, 7, 12, 19, 30, 42, 57, 72, 88, 108, 128, 178, 202],  # -1.1
    [2, 7, 12, 17, 27, 39, 52, 66, 80, 97, 118, 145, 172, 235],  # -1.3
    [2, 7, 12, 19, 29, 41, 54, 69, 84, 102, 128, 155, 192, 258],  # -1.5
    [2, 7, 12, 17, 28, 40, 53, 66, 82, 106, 132, 165, 188, 238],  # -1.7
    [2, 7, 12, 19, 30, 42, 57, 72, 92, 118, 148, 178, 228],  # -1.9
    [2, 7, 12, 17, 27, 39, 52, 65, 80, 100, 128, 155, 185, 215],  # -2.1
    [2, 7, 12, 19, 29, 41, 54, 70, 86, 112, 140, 168, 198, 265],  # -2.3
    [2, 7, 12, 17, 28, 40, 53, 66, 82, 102, 125, 158, 186, 232],  # -2.5
    [2, 7, 12, 19, 30, 42, 57, 74, 96, 122, 148, 182, 252],  # -2.7
    [2, 7, 12, 17, 27, 39, 52, 66, 86, 108, 135, 165, 205],  # -2.9
    [2, 7, 12, 19, 29, 41, 56, 72, 94, 125, 152, 195, 222],  # -3.1
    [2, 7, 12, 17, 28, 40, 54, 70, 98, 122, 148, 178],  # -3.3
    [2, 7, 12, 19, 31, 44, 60, 82, 108, 142, 165],  # -3.5
    [2, 7, 12, 17, 29, 42, 58, 76, 118, 148],  # -3.7
    [2, 7, 12, 20, 34, 52, 85],  # -3.9
    [2, 7, 12, 17, 26, 48],  # -4.1
    [2, 7, 12, 22],  # -4.3
    [3, 7, 12],  # -4.5
]

# CHH methylation in per mille, black band only
chh_core_rows = [
    [48, 58, 79, 92, 98, 121, 127, 138],  # 3.5
    [52, 63, 74, 86, 98, 111, 125, 137],  # 3.3
    [57, 68, 79, 90, 102, 114, 127, 142, 158],  # 3.1
    [62, 72, 83, 94, 106, 118, 131, 147],  # 2.9
    [67, 77, 88, 99, 111, 123, 135, 149, 160],  # 2.7
    [72, 83, 93, 104, 116, 128, 142, 158],  # 2.5
    [67, 77, 88, 100, 112, 124, 138, 152],  # 2.3
    [62, 72, 84, 96, 108, 121, 135, 150],  # 2.1
    [42, 50, 59, 70, 81, 93, 111, 126, 143],  # 1.9
]

# stray points that belong to one panel only
extra_a_x = [1.0, 0.77, 0.3, 0.31, 0.57, 0.75, 0.81, 0.88, 0.97, 0.96, 0.17, 0.19, 0.06, 0.065, 0.97, 0.95, 0.97, 0.52, 0.0]
extra_a_y = [5.4, 7.25, -4.7, -4.75, -4.25, -4.35, -4.1, -4.3, -2.0, -1.9, -4.3, -4.15, -4.55, -4.55, 2.4, 3.5, 3.45, 6.15, -5.4]
extra_b_x = [0.5, 0.51, 0.52, 0.53, 0.53, 0.72, 0.67, 0.77, 0.79, 0.1, 0.31, 0.96, 0.98, 0.97, 0.96, 0.95, 0.92, 0.93, 0.9, 0.85, 0.83, 0.84, 0.87,
             0.1, 0.16, 0.24, 0.34, 0.4, 0.29, 0.55, 0.78, 0.84, 0.46, 0.68, 0.0]
extra_b_y = [6.2, 5.8, 5.7, 6.25, 5.95, 6.3, 6.0, 5.95, 7.2, 6.2, 6.05, 3.5, -0.75, -2.5, -2.5, -2.2, -2.5, -2.3, -2.4, -2.7, -2.7, -2.8, -2.65,
             -4.35, -4.3, -4.65, -4.5, -4.0, -4.05, -3.95, -4.0, -3.9, -3.9, -3.7, -5.3]
extra_c_x = [0.255, 0.84, 0.81, 0.825, 0.8, 0.79, 0.805, 0.775, 0.755, 0.76, 0.74, 0.75, 0.76, 0.765, 0.755, 0.7, 0.56, 0.05, 0.155, 0.27,
             0.32, 0.42, 0.58, 0.21, 0.35, 0.05, 0.46, 0.5, 0.64, 0.0]
extra_c_y = [7.25, 2.8, 2.8, 2.7, 2.45, 2.1, 1.8, 2.65, 2.1, 2.15, 1.3, 4.9, 3.45, -2.55, -0.95, -3.35, -4.35, -4.8, -4.4, -4.2,
             6.2, 6.05, 5.8, 5.9, 5.9, 5.9, -3.9, 5.4, 5.05, -5.4]
extra_d_x = [0.26, 0.88, 0.84, 0.85, 0.82, 0.79, 0.8, 0.77, 0.76, 0.76, 0.77, 0.72, 0.72, 0.73, 0.46, 0.27, 0.12, 0.05, 0.74, 0.33, 0.42, 0.6,
             0.66, 0.69, 0.31, 0.19, 0.18, 0.12, 0.0]
extra_d_y = [7.2, 2.9, 2.7, 1.95, 1.45, 2.6, 2.2, 2.6, -3.55, -1.9, -0.85, -0.15, -1.2, -1.25, -3.95, -4.0, -4.0, -4.65, 4.65, 6.3, 6.2, 5.95,
             5.35, 5.0, 6.1, 6.0, 5.95, 5.95, -5.35]
extra_e_x = [0.12, 0.575, 0.48, 0.475, 0.49, 0.42, 0.4, 0.39, 0.36, 0.38, 0.4, 0.38, 0.37, 0.375, 0.36, 0.33, 0.3, 0.32, 0.185, 0.11, 0.305,
             0.195, 0.085, 0.21, 0.33, 0.31, 0.315, 0.305, 0.29, 0.28, 0.265, 0.22, 0.34, 0.35, 0.0]
extra_e_y = [7.25, 2.15, 3.05, 2.45, 2.55, 2.8, 3.65, 3.4, 4.0, 3.7, 2.15, 2.7, 2.75, 1.05, 1.3, 5.75, 5.45, 4.85, 6.05, 6.2, -3.4,
             -4.35, -4.6, -3.9, -0.8, -1.6, -1.65, -1.05, -0.9, 5.3, 4.75, 5.25, 2.9, 2.4, -5.4]
extra_f_x = [0.13, 0.575, 0.47, 0.465, 0.46, 0.45, 0.445, 0.435, 0.44, 0.43, 0.41, 0.39, 0.295, 0.18, 0.095, 0.07, 0.12, 0.355, 0.31, 0.315,
             0.32, 0.315, 0.37, 0.335, 0.335, 0.23, 0.21, 0.09, 0.1, 0.025, 0.38, 0.36, 0.37, 0.385, 0.0]
extra_f_y = [7.2, 2.3, 2.9, 2.6, 2.4, 3.25, 2.85, 2.05, 2.5, 3.0, 3.4, 5.35, 5.95, 6.2, 6.3, 6.05, 5.8, -3.2, -3.15, -3.3,
             -2.6, -2.05, -2.2, -1.15, -0.15, -3.6, -3.4, -4.0, -4.0, -4.55, 3.85, 3.95, 2.3, 2.25, -5.3]

W, H = 709, 952
GRAY = '#7f7f7f'
TEXT = '#1a1a1a'
y_ticks = [-4, -2, 0, 2, 4, 6, 8]


def flatten(rows, mid_rows, core_rows, scale):
    """turn the per level lists into flat x and y lists"""
    xs, ys = [], []
    passes = ((y_levels, rows, scale), (y_mid_levels, mid_rows, 1000), (y_core_levels, core_rows, 1000))
    for levels, lists, div in passes:
        for level, row in zip(levels, lists, strict=True):
            for v in row:
                xs.append(v / div)
                ys.append(level)
    return xs, ys


def label_parts(fig, pre, it, post, cx, cy, vertical=False):
    """write one label from upright and italic pieces, centred on cx, cy in pixels"""
    renderer = fig.canvas.get_renderer()
    parts = []
    for s, style in ((pre, 'normal'), (it, 'italic'), (post, 'normal')):
        if s:
            kw = {'rotation': 90} if vertical else {}
            parts.append(fig.text(0, 0, s, fontsize=11.3, fontstyle=style, color=TEXT, va='baseline',
                                  ha='left', rotation_mode='anchor', **kw))
    sizes = [p.get_window_extent(renderer) for p in parts]
    lengths = [b.height if vertical else b.width for b in sizes]
    pos = -sum(lengths) / 2
    for p, n in zip(parts, lengths):
        if vertical:
            p.set_position(((cx + 5) / W, 1 - (cy - pos) / H))
        else:
            p.set_position(((cx + pos) / W, 1 - (cy + 5) / H))
        pos += n - 1.5


def panel(letter, letter_pos, box, x_px, y_px, x_ticks, x_vals, y_vals, extra_x, extra_y, label_pre, label_it,
          tick_y, label_xy, ylabel_xy):
    """box is left, right, top, bottom in pixels; x_px and y_px place two ticks"""
    left, right, top, bottom = box
    fig = plt.gcf()
    ax = fig.add_axes([left / W, 1 - bottom / H, (right - left) / W, (bottom - top) / H])
    x0, xv, px = x_px
    per_x = (px - x0) / xv
    ax.set_xlim((left - x0) / per_x, (right - x0) / per_x)
    y8, y4 = y_px
    per_y = (y4 - y8) / 12
    ax.set_ylim(-4 - (bottom - y4) / per_y, 8 + (y8 - top) / per_y)
    ax.scatter(x_vals, y_vals, s=7, c='black', linewidths=0, zorder=3)
    ax.scatter(extra_x, extra_y, s=7, c='black', linewidths=0, zorder=3)
    for s in ax.spines.values():
        s.set_color(GRAY)
        s.set_linewidth(1.0)
    ax.set_xticks(x_ticks)
    ax.set_xticklabels(['%.1f' % t for t in x_ticks])
    ax.set_yticks(y_ticks)
    ax.set_yticklabels([str(t) for t in y_ticks])
    ax.tick_params(axis='both', length=3, width=0.8, color=GRAY, labelcolor=TEXT, labelsize=11)
    ax.tick_params(axis='x', pad=(tick_y - bottom - 5.5 - 4) * 0.72)
    ax.tick_params(axis='y', pad=3)
    if x_ticks[-1] == 1.0 and left > 400:
        # the last label of this panel sits against the page edge
        last = ax.get_xticklabels()[-1]
        last.set_transform(last.get_transform() + ScaledTranslation(-6 / 100, 0, fig.dpi_scale_trans))
    label_parts(fig, label_pre, label_it, '', label_xy[0], label_xy[1])
    label_parts(fig, 'log(RPKM value in ', label_it, ')', ylabel_xy[0], ylabel_xy[1], vertical=True)
    fig.text(letter_pos[0] / W, 1 - letter_pos[1] / H, letter, ha='left', va='baseline', fontsize=12.5,
             fontweight='bold', color='black')


def main():
    fig = plt.figure(figsize=(W / 100, H / 100), dpi=100)
    fig.canvas.draw()
    cg_x, cg_y = flatten(cg_rows, cg_mid_rows, cg_core_rows, 100)
    chg_x, chg_y = flatten(chg_rows, chg_mid_rows, chg_core_rows, 100)
    chh_x, chh_y = flatten(chh_rows, chh_mid_rows, chh_core_rows, 1000)
    yj = 'YJ'
    mut = 'YJ suvh1-1'
    tk = [0.0, 0.2, 0.4, 0.6, 0.8, 1.0]
    tk8 = [0.0, 0.2, 0.4, 0.6, 0.8]
    tk5 = [0.0, 0.1, 0.2, 0.3, 0.4, 0.5]
    panel('A', (1, 13), (90, 345, 17, 246), (99.3, 1.0, 336), (20.7, 214.3), tk, cg_x, cg_y, extra_a_x, extra_a_y,
          'CG methylation level in ', yj, 258, (207, 279), (60, 132.7))
    panel('B', (388, 13), (451.7, 706.7, 17, 246), (460.3, 0.8, 654), (20.7, 216), tk, cg_x, cg_y, extra_b_x, extra_b_y,
          'CG methylation level in ', mut, 262, (572, 283), (418, 137.7))
    panel('C', (1, 334), (90, 345, 348, 576), (99.3, 0.8, 325), (350.7, 545), tk8, chg_x, chg_y, extra_c_x, extra_c_y,
          'CHG methylation level in ', yj, 588, (213, 609), (60, 462.5))
    panel('D', (388, 334), (451.7, 706.7, 344, 572.7), (460.3, 0.8, 674), (346.7, 542.7), tk8, chg_x, chg_y, extra_d_x,
          extra_d_y, 'CHG methylation level in ', mut, 585.7, (572, 606.7), (418, 462.5))
    panel('E', (1, 645), (90, 345, 677, 906), (99.3, 0.5, 305), (680.3, 874.3), tk5, chh_x, chh_y, extra_e_x, extra_e_y,
          'CHH methylation level in ', yj, 921, (212, 943.7), (60, 792))
    panel('F', (388, 645), (451.7, 706.7, 677.7, 906), (460.3, 0.5, 667.7), (679.3, 876), tk5, chh_x, chh_y, extra_f_x,
          extra_f_y, 'CHH methylation level in ', mut, 921, (573, 943), (418, 797.5))
    plt.savefig('out.png', dpi=100)


if __name__ == '__main__':
    main()
